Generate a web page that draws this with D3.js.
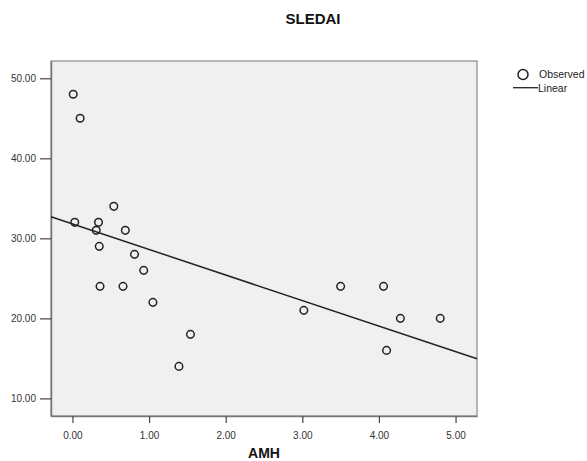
<!DOCTYPE html>
<html><head><meta charset="utf-8">
<script src="https://cdn.jsdelivr.net/npm/d3@7"></script>
<style>body{margin:0;background:#fff}svg{display:block}</style>
</head><body>
<svg id="c" width="587" height="461"></svg>
<script>
const amh = [0.01,0.10,0.03,0.34,0.31,0.54,0.69,0.35,0.81,0.93,0.36,0.66,1.05,1.54,1.39,3.02,3.50,4.06,4.28,4.80,4.10];
const sledai = [48,45,32,32,31,34,31,29,28,26,24,24,22,18,14,21,24,24,20,20,16];
const fitIntercept = [31.8];
const fitSlope = [-3.19];
const xTicks = [0,1,2,3,4,5];
const yTicks = [10,20,30,40,50];
const legendLabels = ["Observed","Linear"];

const svg = d3.select("#c");
const L=51, R=477, T=61, B=416;
const x = d3.scaleLinear().domain([-0.28,5.28]).range([L,R]);
const y = d3.scaleLinear().domain([7.8,52.16]).range([B,T]);

svg.append("rect").attr("x",L).attr("y",T).attr("width",R-L).attr("height",B-T)
  .attr("fill","#f0f0f0").attr("stroke","#8a8a8a").attr("stroke-width",1.2);

const fmt = d3.format(".2f");
const xa = svg.append("g").attr("transform",`translate(0,${B})`)
  .call(d3.axisBottom(x).tickValues(xTicks).tickFormat(fmt).tickSize(7).tickSizeOuter(0));
const ya = svg.append("g").attr("transform",`translate(${L},0)`)
  .call(d3.axisLeft(y).tickValues(yTicks).tickFormat(fmt).tickSize(11).tickSizeOuter(0));
[xa,ya].forEach(a=>{
  a.select(".domain").attr("stroke","#777").attr("stroke-width",1.5);
  a.selectAll(".tick line").attr("stroke","#444").attr("stroke-width",1.2);
  a.selectAll("text").attr("font-family","Arial, Liberation Sans, sans-serif").attr("font-size",10).attr("fill","#333");
});
xa.selectAll("text").attr("dy","1.3em");
ya.selectAll("text").attr("dx","-1px");

// fit line
const x0 = x.domain()[0], x1 = x.domain()[1];
svg.append("line")
  .attr("x1",x(x0)).attr("y1",y(fitIntercept[0]+fitSlope[0]*x0))
  .attr("x2",x(x1)).attr("y2",y(fitIntercept[0]+fitSlope[0]*x1))
  .attr("stroke","#222").attr("stroke-width",1.5);

svg.append("g").selectAll("circle").data(amh).join("circle")
  .attr("cx",d=>x(d)).attr("cy",(d,i)=>y(sledai[i])).attr("r",3.8)
  .attr("fill","none").attr("stroke","#222").attr("stroke-width",1.5);

svg.append("text").attr("x",313).attr("y",24).attr("text-anchor","middle")
  .attr("font-family","Arial, Liberation Sans, sans-serif").attr("font-weight","bold").attr("font-size",15).attr("fill","#111").text("SLEDAI");
svg.append("text").attr("x",264).attr("y",458).attr("text-anchor","middle")
  .attr("font-family","Arial, Liberation Sans, sans-serif").attr("font-weight","bold").attr("font-size",14).attr("fill","#111").text("AMH");

// legend
const lg = svg.append("g").attr("font-family","Arial, Liberation Sans, sans-serif").attr("font-size",10.5).attr("fill","#222");
lg.append("circle").attr("cx",523).attr("cy",74.5).attr("r",5).attr("fill","none").attr("stroke","#222").attr("stroke-width",1.5);
lg.append("text").attr("x",539).attr("y",78).text(legendLabels[0]);
lg.append("line").attr("x1",513).attr("x2",538).attr("y1",87.7).attr("y2",87.7).attr("stroke","#222").attr("stroke-width",1.3);
lg.append("text").attr("x",538).attr("y",91.5).text(legendLabels[1]);
</script>
</body></html>
